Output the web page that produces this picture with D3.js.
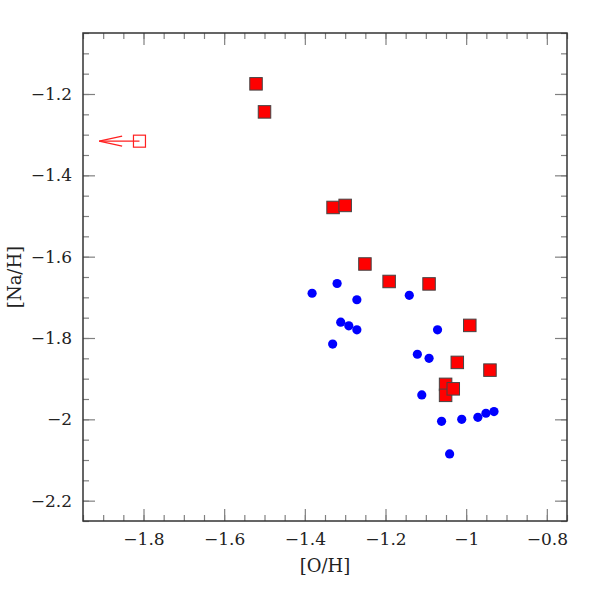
<!DOCTYPE html>
<html>
<head>
<meta charset="utf-8">
<script src="https://cdn.jsdelivr.net/npm/d3@7"></script>
<style>
  body { margin: 0; background: #fff; }
  text { font-family: "DejaVu Serif", "Liberation Serif", serif; }
</style>
</head>
<body>
<div id="chart"></div>
<script>
// red squares: [O/H], [Na/H]
var sqOH = [-1.521, -1.500, -1.330, -1.300, -1.251, -1.191, -1.092, -0.991, -1.022, -0.941, -1.051, -1.051, -1.032];
var sqNaH = [-1.175, -1.244, -1.479, -1.474, -1.618, -1.661, -1.667, -1.769, -1.860, -1.879, -1.914, -1.941, -1.925];

// blue circles
var dotOH = [-1.382, -1.320, -1.271, -1.141, -1.311, -1.291, -1.271, -1.331, -1.071, -1.121, -1.092, -1.110, -1.061, -1.011, -0.971, -0.951, -0.931, -1.041];
var dotNaH = [-1.690, -1.666, -1.706, -1.695, -1.761, -1.770, -1.780, -1.815, -1.780, -1.840, -1.850, -1.940, -2.005, -2.000, -1.995, -1.985, -1.981, -2.085];

// upper limit in [O/H] (open square with arrow)
var limOH = [-1.810];
var limNaH = [-1.316];
var limArrowTo = [-1.910];

var xTicks = [-1.8, -1.6, -1.4, -1.2, -1.0, -0.8];
var xTickLabels = ["\u22121.8", "\u22121.6", "\u22121.4", "\u22121.2", "\u22121", "\u22120.8"];
var yTicks = [-2.2, -2.0, -1.8, -1.6, -1.4, -1.2];
var yTickLabels = ["\u22122.2", "\u22122", "\u22121.8", "\u22121.6", "\u22121.4", "\u22121.2"];

var margin = {top: 33, right: 31, bottom: 77, left: 83},
    width = 598 - margin.left - margin.right,
    height = 598 - margin.top - margin.bottom;

var svg = d3.select("#chart")
    .append("svg")
    .attr("width", 598)
    .attr("height", 598)
    .append("g")
    .attr("transform", "translate(" + margin.left + "," + margin.top + ")");

var x = d3.scaleLinear().domain([-1.95, -0.75]).range([0, width]);
var y = d3.scaleLinear().domain([-2.25, -1.05]).range([height, 0]);

// minor tick positions every 0.05
var xMinor = d3.range(-1.95, -0.749, 0.05).map(function (d) { return +d.toFixed(2); });
var yMinor = d3.range(-2.25, -1.049, 0.05).map(function (d) { return +d.toFixed(2); });

function styleAxis(g) {
    g.select(".domain").remove();
    g.selectAll(".tick line").attr("stroke", "#808080").attr("stroke-width", 1.2);
    g.selectAll(".tick text").attr("fill", "#222").style("font-size", "17px")
        .style("font-weight", "lighter");
}

// minor ticks, all four sides
svg.append("g").attr("transform", "translate(0," + height + ")")
    .call(d3.axisBottom(x).tickValues(xMinor).tickSize(-6).tickFormat("")).call(styleAxis);
svg.append("g")
    .call(d3.axisTop(x).tickValues(xMinor).tickSize(-6).tickFormat("")).call(styleAxis);
svg.append("g")
    .call(d3.axisLeft(y).tickValues(yMinor).tickSize(-6).tickFormat("")).call(styleAxis);
svg.append("g").attr("transform", "translate(" + width + ",0)")
    .call(d3.axisRight(y).tickValues(yMinor).tickSize(-6).tickFormat("")).call(styleAxis);

// major ticks
svg.append("g").attr("transform", "translate(0," + height + ")")
    .call(d3.axisBottom(x).tickValues(xTicks).tickSize(-12).tickPadding(12)
        .tickFormat(function (d, i) { return xTickLabels[i]; }))
    .call(styleAxis);
svg.append("g")
    .call(d3.axisTop(x).tickValues(xTicks).tickSize(-12).tickFormat("")).call(styleAxis);
svg.append("g")
    .call(d3.axisLeft(y).tickValues(yTicks).tickSize(-12).tickPadding(11)
        .tickFormat(function (d, i) { return yTickLabels[i]; }))
    .call(styleAxis);
svg.append("g").attr("transform", "translate(" + width + ",0)")
    .call(d3.axisRight(y).tickValues(yTicks).tickSize(-12).tickFormat("")).call(styleAxis);

// frame
svg.append("rect")
    .attr("width", width).attr("height", height)
    .attr("fill", "none").attr("stroke", "#333").attr("stroke-width", 1.5);

// axis titles
svg.append("text")
    .attr("x", width / 2).attr("y", height + 51)
    .attr("text-anchor", "middle").attr("fill", "#222")
    .style("font-size", "18px")
    .text("[O/H]");

svg.append("text")
    .attr("transform", "translate(" + (-62) + "," + (height / 2) + ") rotate(-90)")
    .attr("text-anchor", "middle").attr("fill", "#222")
    .style("font-size", "18px")
    .text("[Na/H]");

// blue circles
var dots = dotOH.map(function (d, i) { return {o: d, na: dotNaH[i]}; });
svg.append("g").selectAll("circle")
    .data(dots).enter().append("circle")
    .attr("cx", function (d) { return x(d.o); })
    .attr("cy", function (d) { return y(d.na); })
    .attr("r", 4.6)
    .attr("fill", "#0000ff");

// red squares
var sq = 12.5;
var squares = sqOH.map(function (d, i) { return {o: d, na: sqNaH[i]}; });
svg.append("g").selectAll("rect")
    .data(squares).enter().append("rect")
    .attr("x", function (d) { return x(d.o) - sq / 2; })
    .attr("y", function (d) { return y(d.na) - sq / 2; })
    .attr("width", sq).attr("height", sq)
    .attr("fill", "#ff0000")
    .attr("stroke", "#444").attr("stroke-width", 1);

// upper limit: open square with arrow
var lim = svg.append("g").attr("stroke", "#ff2020").attr("fill", "none").attr("stroke-width", 1.2);
limOH.forEach(function (d, i) {
    var cx = x(d), cy = y(limNaH[i]), tip = x(limArrowTo[i]);
    lim.append("rect")
        .attr("x", cx - 6).attr("y", cy - 6)
        .attr("width", 12).attr("height", 12);
    lim.append("line")
        .attr("x1", cx).attr("y1", cy).attr("x2", tip).attr("y2", cy);
    lim.append("path")
        .attr("d", "M" + (tip + 23) + "," + (cy - 5) + "L" + tip + "," + cy + "L" + (tip + 23) + "," + (cy + 5));
});
</script>
</body>
</html>
